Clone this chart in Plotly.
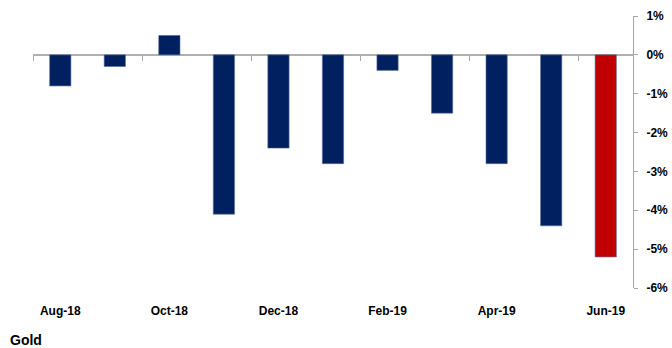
import plotly.graph_objects as go

months = ["Aug-18", "Sep-18", "Oct-18", "Nov-18", "Dec-18", "Jan-19",
          "Feb-19", "Mar-19", "Apr-19", "May-19", "Jun-19"]
values = [-0.8, -0.3, 0.5, -4.1, -2.4, -2.8, -0.4, -1.5, -2.8, -4.4, -5.2]
label_months = ["Aug-18", "Oct-18", "Dec-18", "Feb-19", "Apr-19", "Jun-19"]
y_ticks = [1, 0, -1, -2, -3, -4, -5, -6]
y_ticktext = ["1%", "0%", "-1%", "-2%", "-3%", "-4%", "-5%", "-6%"]
title = "Gold"

navy = "#002060"
red = "#C00000"
colors = [navy] * (len(months) - 1) + [red]

fig = go.Figure()
fig.add_trace(go.Bar(
    x=months, y=values,
    marker=dict(color=colors, line=dict(color="#5A6E9A", width=0.6)),
    showlegend=False, hoverinfo="x+y",
))
# invisible trace to activate the tick-mark axis at the zero line
fig.add_trace(go.Scatter(x=[0], y=[0], xaxis="x2", mode="markers",
                         marker=dict(opacity=0), showlegend=False, hoverinfo="skip"))

n = len(months)
fig.update_layout(
    width=672, height=348,
    margin=dict(l=33, r=39, t=16, b=60, autoexpand=False),
    paper_bgcolor="white", plot_bgcolor="white",
    bargap=0.61,
    font=dict(family="Liberation Sans", size=12, color="black"),
    xaxis=dict(
        type="category", range=[-0.5, n - 0.5], automargin=False,
        tickmode="array", tickvals=label_months, ticktext=label_months,
        showline=False, showgrid=False, zeroline=False, ticks="",
        ticklabelstandoff=14,
        tickfont=dict(family="Liberation Sans", size=12, color="black", weight="bold"),
    ),
    xaxis2=dict(
        overlaying="x", anchor="free", position=6 / 7, automargin=False,
        range=[-0.5, n - 0.5],
        tickmode="array", tickvals=[i - 0.5 for i in range(0, n, 2)],
        ticks="outside", ticklen=5, tickcolor="#A6A6A6", tickwidth=1,
        showticklabels=False, showline=False, showgrid=False, zeroline=False,
    ),
    yaxis=dict(
        side="right", range=[-6, 1], automargin=False,
        tickmode="array", tickvals=y_ticks, ticktext=y_ticktext,
        showline=True, linecolor="#A6A6A6", linewidth=1,
        ticks="outside", ticklen=4, tickcolor="#A6A6A6",
        showgrid=False,
        zeroline=True, zerolinecolor="#B0B0B0", zerolinewidth=1.5,
        ticklabelstandoff=6,
        tickfont=dict(family="Liberation Sans", size=12, color="black", weight="bold"),
    ),
    annotations=[dict(
        text=title, xref="paper", yref="paper",
        x=(8 - 33) / 600, y=(288 - 340) / 272,
        xanchor="left", yanchor="middle", showarrow=False,
        font=dict(family="Liberation Sans", size=14, color="black", weight="bold"),
    )],
)

fig.write_html("out.html", config={"displayModeBar": False},
               post_script="document.body.style.margin='0';document.body.style.overflow='hidden';")
